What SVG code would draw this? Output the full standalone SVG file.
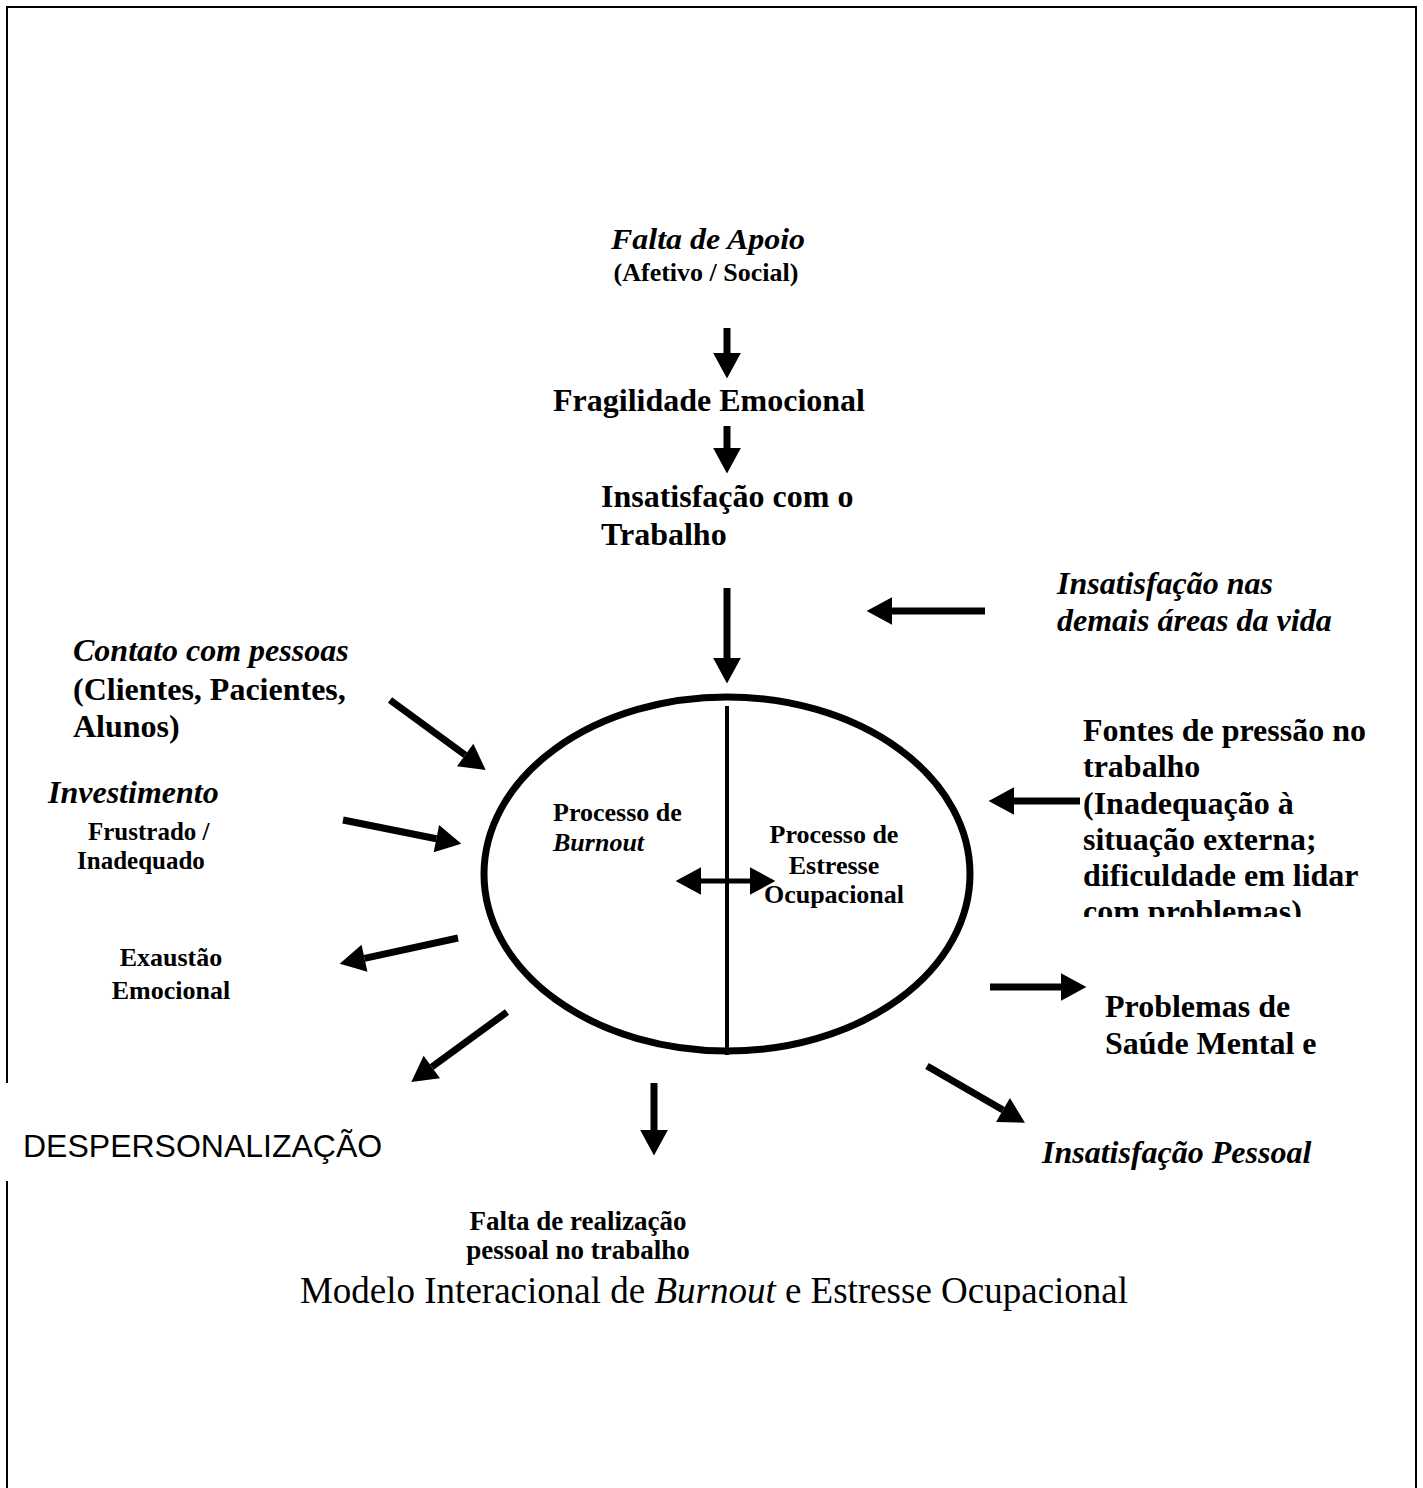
<svg xmlns="http://www.w3.org/2000/svg" width="1423" height="1488" viewBox="0 0 1423 1488">
<style>
text{font-family:"Liberation Serif","Times New Roman",serif;fill:#000}
.b{font-weight:bold}
.bi{font-weight:bold;font-style:italic}
.L{font-size:32px}
.S{font-size:26px}
.arr{stroke:#000;stroke-width:7;fill:none;marker-end:url(#ah)}
</style>
<defs>
<marker id="ah" markerUnits="userSpaceOnUse" markerWidth="30" markerHeight="30" refX="0" refY="0" viewBox="0 -13 23 26" orient="auto-start-reverse" overflow="visible">
<path d="M0,-12 L22,0 L0,12 z" fill="#000"/>
</marker>
<clipPath id="clipF"><rect x="1000" y="680" width="423" height="237"/></clipPath>
</defs>
<rect width="1423" height="1488" fill="#fff"/>
<path d="M7,1083 V7 H1416 V1490 M7,1181 V1490" fill="none" stroke="#000" stroke-width="2"/>

<g id="connectors">
<line class="arr" x1="727" y1="328" x2="727" y2="353"/>
<line class="arr" x1="727" y1="426" x2="727" y2="448"/>
<line class="arr" x1="727" y1="588" x2="727" y2="658"/>
<line class="arr" x1="985" y1="611" x2="892" y2="611"/>
<line class="arr" x1="390" y1="700" x2="465.2" y2="755"/>
<line class="arr" x1="343" y1="820" x2="436.4" y2="838.7"/>
<line class="arr" x1="1080" y1="801" x2="1014" y2="801"/>
<line class="arr" x1="458" y1="938" x2="364.5" y2="958.3"/>
<line class="arr" x1="507" y1="1012" x2="431.8" y2="1067"/>
<line class="arr" x1="654" y1="1083" x2="654" y2="1130"/>
<line class="arr" x1="990" y1="987" x2="1061" y2="987"/>
<line class="arr" x1="927" y1="1066" x2="1003" y2="1110"/>
<line x1="701" y1="881" x2="750" y2="881" stroke="#000" stroke-width="5" marker-start="url(#ah)" marker-end="url(#ah)"/>
</g>

<g id="ellipse">
<ellipse cx="727" cy="874" rx="243" ry="177" fill="none" stroke="#000" stroke-width="7"/>
<line x1="727" y1="706" x2="727" y2="1055" stroke="#000" stroke-width="4"/>
</g>

<g id="falta-apoio">
<text class="bi" x="611" y="249" font-size="30" textLength="194" lengthAdjust="spacingAndGlyphs">Falta de Apoio</text>
<text class="b" x="706" y="281" font-size="26" text-anchor="middle">(Afetivo / Social)</text>
</g>
<g id="fragilidade"><text class="b L" x="553" y="411">Fragilidade Emocional</text></g>
<g id="insat-trabalho">
<text class="b L" x="601" y="507">Insatisfação com o</text>
<text class="b L" x="601" y="545">Trabalho</text>
</g>
<g id="insat-demais">
<text class="bi L" x="1057" y="594">Insatisfação nas</text>
<text class="bi L" x="1057" y="631">demais áreas da vida</text>
</g>
<g id="contato">
<text class="bi L" x="73" y="661">Contato com pessoas</text>
<text class="b L" x="73" y="700">(Clientes, Pacientes,</text>
<text class="b L" x="73" y="737">Alunos)</text>
</g>
<g id="investimento">
<text class="bi L" x="48" y="803">Investimento</text>
<text class="b" x="88" y="840" font-size="25">Frustrado /</text>
<text class="b" x="77" y="869" font-size="25">Inadequado</text>
</g>
<g id="burnout">
<text class="b S" x="553" y="821">Processo de</text>
<text class="bi S" x="553" y="851">Burnout</text>
</g>
<g id="estresse">
<text class="b S" x="834" y="843" text-anchor="middle">Processo de</text>
<text class="b S" x="834" y="874" text-anchor="middle">Estresse</text>
<text class="b S" x="834" y="903" text-anchor="middle">Ocupacional</text>
</g>
<g id="fontes" clip-path="url(#clipF)">
<text class="b L" x="1083" y="741">Fontes de pressão no</text>
<text class="b L" x="1083" y="777">trabalho</text>
<text class="b L" x="1083" y="814">(Inadequação à</text>
<text class="b L" x="1083" y="850">situação externa;</text>
<text class="b L" x="1083" y="886">dificuldade em lidar</text>
<text class="b L" x="1083" y="922">com problemas)</text>
</g>
<g id="exaustao">
<text class="b S" x="171" y="966" text-anchor="middle">Exaustão</text>
<text class="b S" x="171" y="999" text-anchor="middle">Emocional</text>
</g>
<g id="problemas">
<text class="b L" x="1105" y="1017">Problemas de</text>
<text class="b L" x="1105" y="1054">Saúde Mental e</text>
</g>
<g id="despersonalizacao">
<text x="23" y="1157" font-size="32" style="font-family:'Liberation Sans',Arial,sans-serif">DESPERSONALIZAÇÃO</text>
</g>
<g id="insat-pessoal"><text class="bi L" x="1042" y="1163">Insatisfação Pessoal</text></g>
<g id="falta-realizacao">
<text class="b" x="578" y="1230" font-size="27" text-anchor="middle">Falta de realização</text>
<text class="b" x="578" y="1259" font-size="27" text-anchor="middle">pessoal no trabalho</text>
</g>
<g id="titulo">
<text x="714" y="1303" font-size="37" text-anchor="middle">Modelo Interacional de <tspan font-style="italic">Burnout</tspan> e Estresse Ocupacional</text>
</g>
</svg>
